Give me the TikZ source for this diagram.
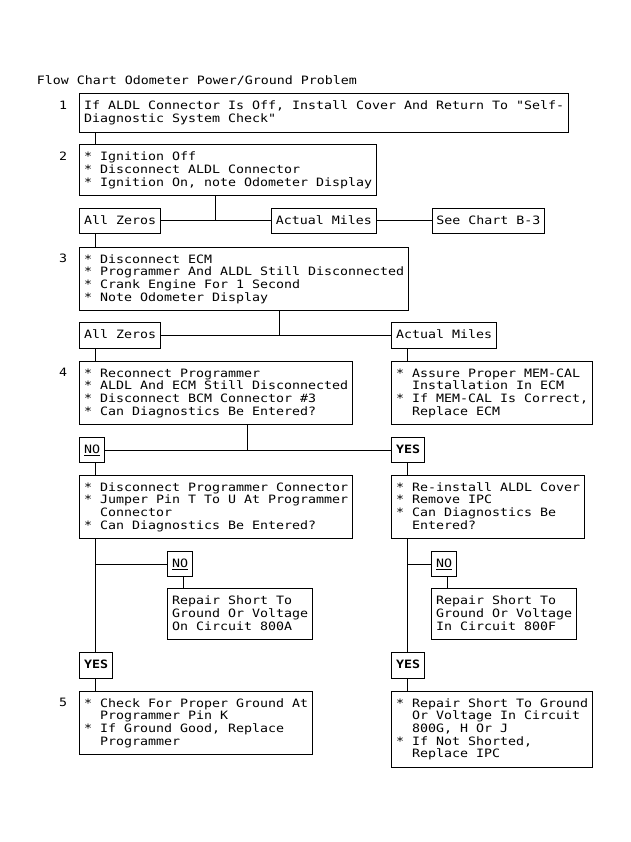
\documentclass[tikz,border=0pt]{standalone}
\usepackage{fontspec}
\newfontfamily\mono[FakeStretch=1.1555]{DejaVu Sans Mono}
\newcommand\tx[1]{\vtop{\baselineskip=12.67pt\lineskiplimit=-100pt\lineskip=0pt\halign{##\hfil\cr#1\crcr}}}
\newcommand\ind{\kern16pt}
\begin{document}
\begin{tikzpicture}[x=1pt,y=-1pt,
  every node/.style={font=\mono\fontsize{11.5pt}{12.67pt}\selectfont},
  box/.style={draw,line width=1pt,inner xsep=4.25pt,inner ysep=0pt,text height=16pt,anchor=north west},
  n1/.style={box,text depth=9.6pt},
  n2/.style={box,text depth=22.27pt},
  n3/.style={box,text depth=34.94pt},
  n4/.style={box,text depth=47.6pt},
  n5/.style={box,text depth=60.27pt},
  num/.style={anchor=base,inner sep=0pt},
  conn/.style={line width=1pt}]
\useasboundingbox[fill=white] (0,0) rectangle (630,842);

\node[anchor=base west,inner sep=0pt] (title) at (36.7,84.6) {Flow Chart Odometer Power/Ground Problem};

% step numbers
\node[num] (s1n) at (63,109.3) {1};
\node[num] (s2n) at (63,160.3) {2};
\node[num] (s3n) at (63,262.7) {3};
\node[num] (s4n) at (63,376.7) {4};
\node[num] (s5n) at (63,706.7) {5};

% boxes
\node[n2] (b1) at (79.3,93.3) {\tx{If ALDL Connector Is Off, Install Cover And Return To "Self-\cr Diagnostic System Check"}};
\node[n3] (b2) at (79.3,144.3) {\tx{* Ignition Off\cr * Disconnect ALDL Connector\cr * Ignition On, note Odometer Display}};
\node[n1] (z1) at (79.3,207.7) {\tx{All Zeros}};
\node[n1] (a1) at (271.2,207.7) {\tx{Actual Miles}};
\node[n1] (c1) at (431.7,207.7) {\tx{See Chart B-3}};
\node[n4] (b3) at (79.3,246.7) {\tx{* Disconnect ECM\cr * Programmer And ALDL Still Disconnected\cr * Crank Engine For 1 Second\cr * Note Odometer Display}};
\node[n1] (z2) at (79.3,322.3) {\tx{All Zeros}};
\node[n1] (a2) at (391.3,322.3) {\tx{Actual Miles}};
\node[n4] (b4) at (79.3,360.7) {\tx{* Reconnect Programmer\cr * ALDL And ECM Still Disconnected\cr * Disconnect BCM Connector \#3\cr * Can Diagnostics Be Entered?}};
\node[n4] (m) at (391.3,360.7) {\tx{* Assure Proper MEM-CAL\cr \ind Installation In ECM\cr * If MEM-CAL Is Correct,\cr \ind Replace ECM}};
\node[n1] (no1) at (79.3,436.7) {\tx{\underline{NO}}};
\node[n1] (yes1) at (391.3,436.7) {\tx{\bfseries YES}};
\node[n4] (b5L) at (79.3,474.5) {\tx{* Disconnect Programmer Connector\cr * Jumper Pin T To U At Programmer\cr \ind Connector\cr * Can Diagnostics Be Entered?}};
\node[n4] (b5R) at (391.3,474.5) {\tx{* Re-install ALDL Cover\cr * Remove IPC\cr * Can Diagnostics Be\cr \ind Entered?}};
\node[n1] (no2) at (167.3,550.7) {\tx{\underline{NO}}};
\node[n3] (r1) at (167.3,588.3) {\tx{Repair Short To\cr Ground Or Voltage\cr On Circuit 800A}};
\node[n1] (no3) at (431.3,550.7) {\tx{\underline{NO}}};
\node[n3] (r2) at (431.3,588.3) {\tx{Repair Short To\cr Ground Or Voltage\cr In Circuit 800F}};
\node[n1] (yes2) at (79.3,652.3) {\tx{\bfseries YES}};
\node[n1] (yes3) at (391.3,652.3) {\tx{\bfseries YES}};
\node[n4] (b6L) at (79.3,690.7) {\tx{* Check For Proper Ground At\cr \ind Programmer Pin K\cr * If Ground Good, Replace\cr \ind Programmer}};
\node[n5] (b6R) at (391.3,690.7) {\tx{* Repair Short To Ground\cr \ind Or Voltage In Circuit\cr \ind 800G, H Or J\cr * If Not Shorted,\cr \ind Replace IPC}};

% junction points
\coordinate (j1) at (215.3,220.5);
\coordinate (j2) at (279.3,335.1);
\coordinate (j3) at (247.3,449.5);

% connectors
\draw[conn] ([xshift=16.4pt]b1.south west) -- ([xshift=16.4pt]b2.north west);
\draw[conn] (b2.south -| j1) -- (j1);
\draw[conn] (z1.east) -- (a1.west);
\draw[conn] (a1.east) -- (c1.west);
\draw[conn] ([xshift=16.4pt]z1.south west) -- ([xshift=16.4pt]b3.north west);
\draw[conn] (b3.south -| j2) -- (j2);
\draw[conn] (z2.east) -- (a2.west);
\draw[conn] ([xshift=16.4pt]z2.south west) -- ([xshift=16.4pt]b4.north west);
\draw[conn] ([xshift=16.4pt]a2.south west) -- ([xshift=16.4pt]m.north west);
\draw[conn] (b4.south -| j3) -- (j3);
\draw[conn] (no1.east) -- (yes1.west);
\draw[conn] ([xshift=16.4pt]no1.south west) -- ([xshift=16.4pt]b5L.north west);
\draw[conn] ([xshift=16.4pt]yes1.south west) -- ([xshift=16.4pt]b5R.north west);
\draw[conn] ([xshift=16.4pt]b5L.south west) -- ([xshift=16.4pt]yes2.north west);
\draw[conn] (no2.west -| yes2.north) -- (no2.west);
\draw[conn] ([xshift=16.4pt]no2.south west) -- ([xshift=16.4pt]r1.north west);
\draw[conn] ([xshift=16.4pt]yes2.south west) -- ([xshift=16.4pt]b6L.north west);
\draw[conn] ([xshift=16.4pt]b5R.south west) -- ([xshift=16.4pt]yes3.north west);
\draw[conn] (no3.west -| yes3.north) -- (no3.west);
\draw[conn] ([xshift=16.4pt]no3.south west) -- ([xshift=16.4pt]r2.north west);
\draw[conn] ([xshift=16.4pt]yes3.south west) -- ([xshift=16.4pt]b6R.north west);
\end{tikzpicture}
\end{document}
